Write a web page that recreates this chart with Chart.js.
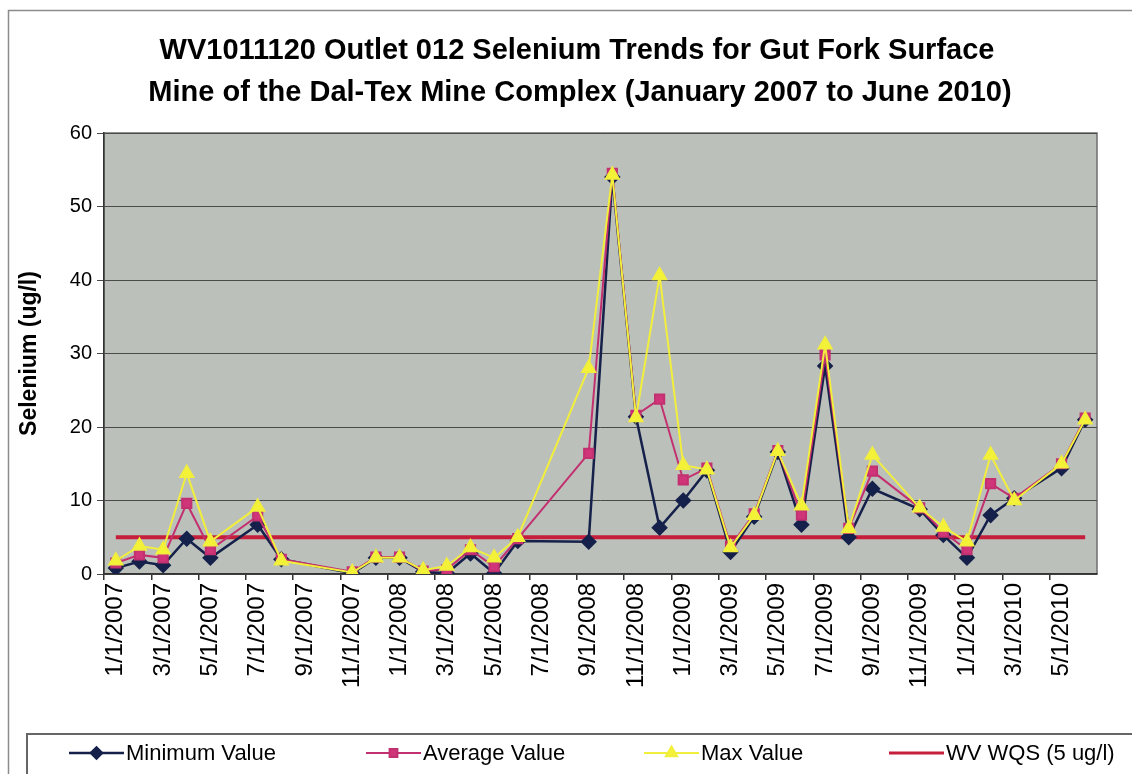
<!DOCTYPE html>
<html>
<head>
<meta charset="utf-8">
<script src="https://cdn.jsdelivr.net/npm/chart.js@4/dist/chart.umd.min.js"></script>
<style>
  html, body { margin: 0; padding: 0; background: #fff; }
  #wrap { width: 1132px; height: 774px; }
</style>
</head>
<body>
<div id="wrap"><canvas id="chart" width="1132" height="774"></canvas></div>
<script>
// monthly sample dates, Jan 2007 - Jun 2010
const months = [
  '1/1/2007','2/1/2007','3/1/2007','4/1/2007','5/1/2007','6/1/2007',
  '7/1/2007','8/1/2007','9/1/2007','10/1/2007','11/1/2007','12/1/2007',
  '1/1/2008','2/1/2008','3/1/2008','4/1/2008','5/1/2008','6/1/2008',
  '7/1/2008','8/1/2008','9/1/2008','10/1/2008','11/1/2008','12/1/2008',
  '1/1/2009','2/1/2009','3/1/2009','4/1/2009','5/1/2009','6/1/2009',
  '7/1/2009','8/1/2009','9/1/2009','10/1/2009','11/1/2009','12/1/2009',
  '1/1/2010','2/1/2010','3/1/2010','4/1/2010','5/1/2010','6/1/2010'
];

// selenium, ug/l (null = no sample that month)
const minValue = [
  0.8, 1.7, 1.2, 4.8, 2.2, null, 6.7, 2.0, null, null, 0.1, 2.2,
  2.2, 0.3, 0.1, 2.8, 0.1, 4.5, null, null, 4.4, 54.0, 21.4, 6.3,
  10.0, 14.1, 3.0, 7.8, 16.6, 6.7, 28.3, 5.0, 11.6, null, 8.8, 5.3,
  2.2, 8.0, 10.3, null, 14.4, 21.0
];
const avgValue = [
  1.5, 2.6, 2.2, 9.6, 3.3, null, 7.9, 2.0, null, null, 0.3, 2.3,
  2.3, 0.4, 0.6, 3.3, 1.0, 4.8, null, null, 16.4, 54.5, 21.6, 23.8,
  12.8, 14.4, 3.8, 8.2, 16.8, 8.0, 29.8, 6.2, 14.0, null, 9.0, 5.7,
  3.3, 12.3, 10.3, null, 15.0, 21.2
];
const maxValue = [
  1.8, 3.8, 3.3, 13.7, 4.4, null, 9.1, 1.8, null, null, 0.2, 2.2,
  2.2, 0.5, 1.1, 3.6, 2.2, 5.0, null, null, 28.0, 54.3, 21.3, 40.6,
  14.8, 14.2, 3.6, 8.0, 16.7, 9.3, 31.2, 6.2, 16.2, null, 9.0, 6.4,
  4.4, 16.2, 10.0, null, 15.0, 21.0
];
const wqsValue = [
  5, 5, 5, 5, 5, 5, 5, 5, 5, 5, 5, 5,
  5, 5, 5, 5, 5, 5, 5, 5, 5, 5, 5, 5,
  5, 5, 5, 5, 5, 5, 5, 5, 5, 5, 5, 5,
  5, 5, 5, 5, 5, 5
];
const yTicks = [0, 10, 20, 30, 40, 50, 60];

const titleLines = [
  'WV1011120 Outlet 012 Selenium Trends for Gut Fork Surface',
  'Mine of the Dal-Tex Mine Complex (January 2007 to June 2010)'
];

const FONT = 'Arial, "Liberation Sans", sans-serif';

// page frame, plot background, title and the boxed legend
const decor = {
  id: 'decor',
  beforeDraw(chart) {
    const { ctx, chartArea: a } = chart;
    ctx.save();
    ctx.fillStyle = '#fff';
    ctx.fillRect(0, 0, chart.width, chart.height);
    ctx.strokeStyle = '#8c8c8c';
    ctx.lineWidth = 1.5;
    ctx.beginPath();
    ctx.moveTo(8.5, chart.height);
    ctx.lineTo(8.5, 10.5);
    ctx.lineTo(chart.width, 10.5);
    ctx.stroke();
    ctx.fillStyle = '#bcc0bb';
    ctx.fillRect(a.left, a.top, a.right - a.left, a.bottom - a.top);
    ctx.strokeStyle = '#6e6e6e';
    ctx.lineWidth = 1.5;
    ctx.strokeRect(a.left, a.top, a.right - a.left, a.bottom - a.top);
    ctx.restore();
  },
  afterDraw(chart) {
    const { ctx } = chart;
    ctx.save();
    // title
    ctx.fillStyle = '#000';
    ctx.font = 'bold 29px ' + FONT;
    ctx.textAlign = 'center';
    ctx.textBaseline = 'middle';
    ctx.fillText(titleLines[0], 577, 51);
    ctx.fillText(titleLines[1], 580, 93);

    // legend box
    ctx.strokeStyle = '#666';
    ctx.lineWidth = 2;
    ctx.beginPath();
    ctx.moveTo(27, chart.height);
    ctx.lineTo(27, 734);
    ctx.lineTo(chart.width, 734);
    ctx.stroke();

    const xs = [69, 366, 644, 889];
    const len = 55;
    const y = 753;
    ctx.font = '22px ' + FONT;
    ctx.textAlign = 'left';
    chart.data.datasets.forEach((ds, i) => {
      const x0 = xs[i];
      ctx.strokeStyle = ds.borderColor;
      ctx.lineWidth = Math.min(ds.borderWidth, 3);
      ctx.beginPath();
      ctx.moveTo(x0, y);
      ctx.lineTo(x0 + len, y);
      ctx.stroke();
      if (ds.pointRadius > 0) {
        ctx.fillStyle = ds.pointBackgroundColor;
        ctx.strokeStyle = ds.borderColor;
        Chart.helpers.drawPoint(ctx, {
          pointStyle: ds.pointStyle, radius: ds.pointRadius - 1,
          borderWidth: 1, rotation: 0
        }, x0 + len / 2, y);
      }
      ctx.fillStyle = '#000';
      ctx.fillText(ds.label, x0 + len + 2, y + 1);
    });
    ctx.restore();
  }
};

new Chart(document.getElementById('chart'), {
  type: 'line',
  data: {
    labels: months,
    datasets: [
      {
        label: 'Minimum Value', data: minValue,
        borderColor: '#15214b', pointBackgroundColor: '#15214b',
        borderWidth: 2.5, pointStyle: 'rectRot', pointRadius: 6.5,
        spanGaps: true, order: 3
      },
      {
        label: 'Average Value', data: avgValue,
        borderColor: '#c2306f', pointBackgroundColor: '#d0357a',
        borderWidth: 2, pointStyle: 'rect', pointRadius: 6.5,
        spanGaps: true, order: 2
      },
      {
        label: 'Max Value', data: maxValue,
        borderColor: '#f1ef3c', pointBackgroundColor: '#f4f236',
        borderWidth: 2, pointStyle: 'triangle', pointRadius: 7.5,
        spanGaps: true, order: 1
      },
      {
        label: 'WV WQS (5 ug/l)', data: wqsValue,
        borderColor: '#c51f3c', pointBackgroundColor: '#c51f3c',
        borderWidth: 4, pointRadius: 0,
        spanGaps: true, order: 4
      }
    ]
  },
  options: {
    responsive: false,
    animation: false,
    events: [],
    elements: { line: { tension: 0 } },
    layout: { padding: { left: 14, top: 133, right: 35, bottom: 0 } },
    plugins: {
      legend: { display: false },
      title: { display: false },
      tooltip: { enabled: false }
    },
    scales: {
      x: {
        offset: true,
        afterFit(s) { s.height = 200; },
        grid: {
          offset: true,
          drawOnChartArea: false,
          drawTicks: true,
          tickLength: 6,
          lineWidth: 1.5,
          color: c => (c.index % 2 === 0 ? '#333' : 'rgba(0,0,0,0)')
        },
        border: { color: '#333', width: 1.5 },
        ticks: {
          autoSkip: false,
          minRotation: 90,
          maxRotation: 90,
          padding: 3,
          color: '#000',
          font: { family: FONT, size: 24 },
          callback(v, i) { return i % 2 === 0 ? this.getLabelForValue(v) : ''; }
        }
      },
      y: {
        min: yTicks[0],
        max: yTicks[yTicks.length - 1],
        afterFit(s) { s.width = 90; },
        afterBuildTicks(s) { s.ticks = yTicks.map(v => ({ value: v })); },
        grid: { color: '#4a4a4a', lineWidth: 1, tickLength: 7 },
        border: { color: '#333', width: 1.5 },
        ticks: {
          padding: 5,
          color: '#000',
          font: { family: FONT, size: 20 }
        },
        title: {
          display: true,
          text: 'Selenium (ug/l)',
          color: '#000',
          padding: { top: 2, bottom: 0 },
          font: { family: FONT, size: 23, weight: 'bold' }
        }
      }
    }
  },
  plugins: [decor]
});
</script>
</body>
</html>
